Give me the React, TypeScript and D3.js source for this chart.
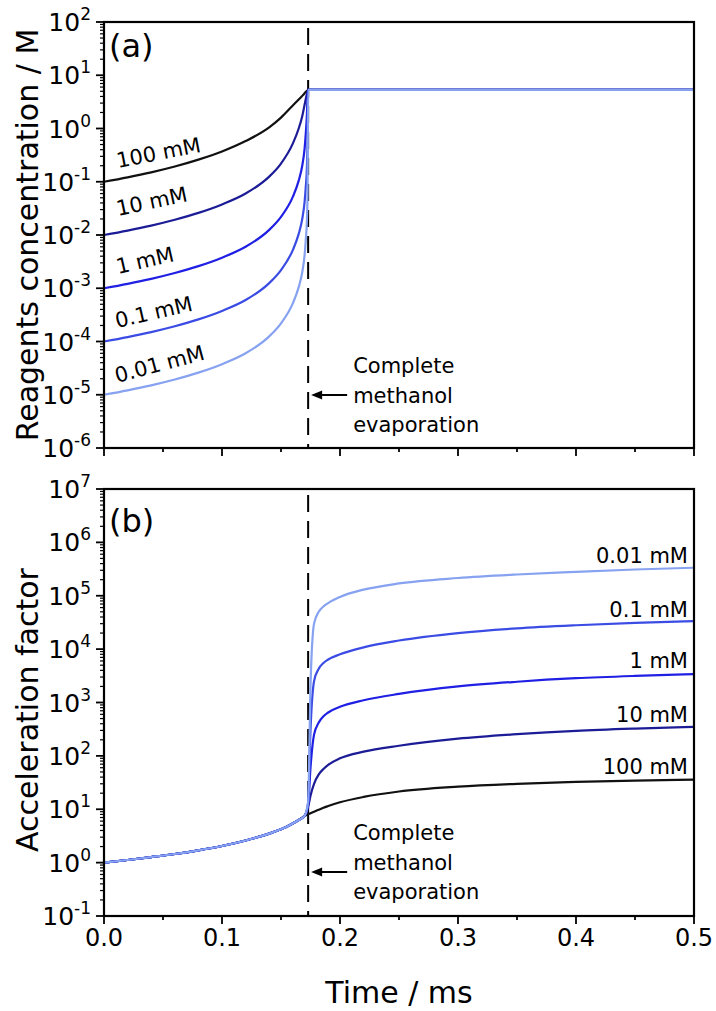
import React from "react";
import * as d3 from "d3";

// ---------- data ----------
const TIME_A = [0, 0.02, 0.04, 0.06, 0.08, 0.1, 0.12, 0.14, 0.15, 0.16, 0.165, 0.168, 0.17, 0.171, 0.172, 0.1725, 0.173, 0.5];
const CONC_100 = [0.1, 0.121, 0.15, 0.193, 0.26, 0.37, 0.58, 1.05, 1.6, 2.7, 3.5, 4.1, 4.6, 4.9, 5.1, 5.2, 5.3, 5.3];
const CONC_10 = [0.01, 0.0121, 0.015, 0.0193, 0.026, 0.0375, 0.06, 0.125, 0.22, 0.52, 1.0, 1.7, 2.8, 3.6, 4.5, 5.0, 5.3, 5.3];
const CONC_1 = [0.001, 0.00121, 0.0015, 0.00193, 0.0026, 0.00375, 0.006, 0.0125, 0.022, 0.052, 0.105, 0.2, 0.42, 0.8, 1.9, 3.8, 5.3, 5.3];
const CONC_01 = [1e-4, 1.21e-4, 1.5e-4, 1.93e-4, 2.6e-4, 3.75e-4, 6e-4, 1.25e-3, 2.2e-3, 5.2e-3, 0.0105, 0.02, 0.042, 0.08, 0.2, 0.6, 5.3, 5.3];
const CONC_001 = [1e-5, 1.21e-5, 1.5e-5, 1.93e-5, 2.6e-5, 3.75e-5, 6e-5, 1.25e-4, 2.2e-4, 5.2e-4, 1.05e-3, 2e-3, 4.2e-3, 8e-3, 0.02, 0.06, 5.3, 5.3];

const TIME_B = [0, 0.02, 0.04, 0.06, 0.08, 0.1, 0.12, 0.14, 0.15, 0.16, 0.165, 0.17, 0.173, 0.175, 0.178, 0.182, 0.186, 0.19, 0.2, 0.22, 0.25, 0.3, 0.35, 0.4, 0.45, 0.5];
const ACC_100 = [1.0, 1.12, 1.27, 1.45, 1.7, 2.05, 2.6, 3.5, 4.2, 5.4, 6.3, 7.5, 8.0, 8.4, 9.0, 9.8, 10.7, 11.5, 13.5, 17, 21.5, 26.5, 30, 32.5, 34.5, 36];
const ACC_10 = [1.0, 1.12, 1.27, 1.45, 1.7, 2.05, 2.6, 3.5, 4.2, 5.4, 6.3, 7.5, 11, 18, 30, 45, 57, 68, 90, 120, 155, 210, 255, 295, 325, 350];
const ACC_1 = [1.0, 1.12, 1.27, 1.45, 1.7, 2.05, 2.6, 3.5, 4.2, 5.4, 6.3, 7.5, 12, 60, 250, 420, 550, 650, 830, 1100, 1450, 2000, 2450, 2850, 3150, 3400];
const ACC_01 = [1.0, 1.12, 1.27, 1.45, 1.7, 2.05, 2.6, 3.5, 4.2, 5.4, 6.3, 7.5, 13, 300, 2500, 4300, 5500, 6400, 8000, 10800, 14500, 20000, 24500, 28000, 31000, 33500];
const ACC_001 = [1.0, 1.12, 1.27, 1.45, 1.7, 2.05, 2.6, 3.5, 4.2, 5.4, 6.3, 7.5, 14, 2000, 30000, 50000, 63000, 73000, 95000, 130000, 170000, 215000, 250000, 280000, 310000, 335000];

const SERIES_LABELS = ["100 mM", "10 mM", "1 mM", "0.1 mM", "0.01 mM"];
const SERIES_COLORS = ["#111111", "#1c1c96", "#2020e4", "#3a4ce4", "#86a2f0"];
const CONC_SERIES = [CONC_100, CONC_10, CONC_1, CONC_01, CONC_001];
const ACC_SERIES = [ACC_100, ACC_10, ACC_1, ACC_01, ACC_001];

const EVAP_TIME = 0.173;
const X_DOMAIN = [0, 0.5];
const X_TICKS = [0, 0.1, 0.2, 0.3, 0.4, 0.5];
const CONC_DOMAIN = [1e-6, 1e2];
const ACC_DOMAIN = [1e-1, 1e7];
const ANNOT_LINES = ["Complete", "methanol", "evaporation"];

// ---------- layout ----------
const W = 716;
const H = 1011;
const FONT = "'DejaVu Sans', 'Liberation Sans', Arial, sans-serif";
const PL = 104;
const PR = 694;
const TOP_A = 22;
const BOT_A = 448;
const TOP_B = 489;
const BOT_B = 916;

const x = d3.scaleLinear().domain(X_DOMAIN).range([PL, PR]);
const yA = d3.scaleLog().domain(CONC_DOMAIN).range([BOT_A, TOP_A]);
const yB = d3.scaleLog().domain(ACC_DOMAIN).range([BOT_B, TOP_B]);

function isDecade(v: number) {
  const l = Math.log10(v);
  return Math.abs(l - Math.round(l)) < 1e-9;
}

function LogAxis({ y }: { y: d3.ScaleLogarithmic<number, number> }) {
  const ticks = y.ticks();
  return (
    <g>
      {ticks.map((t, i) => {
        const major = isDecade(t);
        const py = y(t);
        return (
          <line key={i} x1={PL - (major ? 8 : 4)} x2={PL} y1={py} y2={py} stroke="#000" strokeWidth={major ? 1.8 : 1.2} />
        );
      })}
      {ticks.filter(isDecade).map((t, i) => {
        const e = Math.round(Math.log10(t));
        return (
          <text key={"l" + i} x={91} y={y(t) + 9} textAnchor="end" fontFamily={FONT} fontSize={25} fill="#000">
            <tspan>10</tspan>
            <tspan dy={-11} fontSize={17}>{e < 0 ? "-" + Math.abs(e) : String(e)}</tspan>
          </text>
        );
      })}
    </g>
  );
}

function XAxis({ yPos, labels }: { yPos: number; labels: boolean }) {
  const ticks = x.ticks(10);
  return (
    <g>
      {ticks.map((t, i) => {
        const major = X_TICKS.some((m) => Math.abs(m - t) < 1e-9);
        return <line key={i} x1={x(t)} x2={x(t)} y1={yPos} y2={yPos + (major ? 8 : 4)} stroke="#000" strokeWidth={1.8} />;
      })}
      {labels &&
        X_TICKS.map((t, i) => (
          <text key={"l" + i} x={x(t)} y={yPos + 30} textAnchor="middle" fontFamily={FONT} fontSize={24} fill="#000">
            {d3.format(".1f")(t)}
          </text>
        ))}
    </g>
  );
}

function Frame({ top, bottom }: { top: number; bottom: number }) {
  return <rect x={PL} y={top} width={PR - PL} height={bottom - top} fill="none" stroke="#000" strokeWidth={2.2} />;
}

function Annotation({ top, arrowY }: { top: number; arrowY: number }) {
  const xl = x(EVAP_TIME);
  return (
    <g>
      <line x1={xl + 12} x2={xl + 39} y1={arrowY} y2={arrowY} stroke="#000" strokeWidth={2} />
      <path d={`M${xl + 3},${arrowY} L${xl + 14},${arrowY - 4.5} L${xl + 14},${arrowY + 4.5} Z`} fill="#000" />
      {ANNOT_LINES.map((s, i) => (
        <text key={i} x={xl + 45} y={top + i * 29.5} fontFamily={FONT} fontSize={21} fill="#000">
          {s}
        </text>
      ))}
    </g>
  );
}

export default function App() {
  const lineA = d3
    .line<number>()
    .x((_, i) => x(TIME_A[i]))
    .y((d) => yA(d))
    .curve(d3.curveMonotoneX);
  const lineB = d3
    .line<number>()
    .x((_, i) => x(TIME_B[i]))
    .y((d) => yB(d))
    .curve(d3.curveMonotoneX);

  const labelsA = [
    { x: 118, y: 168, a: -11 },
    { x: 118, y: 216, a: -12 },
    { x: 118, y: 274, a: -13 },
    { x: 117, y: 328, a: -13 },
    { x: 117, y: 383, a: -15 },
  ];
  const labelsB = [774, 722, 668, 617, 563];

  const xe = x(EVAP_TIME);

  return (
    <div style={{ position: "absolute", left: 0, top: 0 }}>
      <svg width={W} height={H} viewBox={`0 0 ${W} ${H}`} style={{ display: "block", background: "#fff" }}>
        {/* panel a */}
        <line x1={xe} x2={xe} y1={TOP_A + 6} y2={BOT_A} stroke="#000" strokeWidth={2} strokeDasharray="17,9" />
        {CONC_SERIES.map((s, i) => (
          <path key={i} d={lineA(s) || ""} fill="none" stroke={SERIES_COLORS[i]} strokeWidth={2.2} />
        ))}
        <Frame top={TOP_A} bottom={BOT_A} />
        <LogAxis y={yA} />
        <XAxis yPos={BOT_A} labels={false} />
        {SERIES_LABELS.map((s, i) => (
          <text
            key={i}
            transform={`translate(${labelsA[i].x},${labelsA[i].y}) rotate(${labelsA[i].a})`}
            fontFamily={FONT}
            fontSize={21}
            fill="#000"
          >
            {s}
          </text>
        ))}
        <text x={109} y={57} fontFamily={FONT} fontSize={32} fill="#000">(a)</text>
        <Annotation top={373} arrowY={395} />
        <text transform={`translate(38,235) rotate(-90)`} textAnchor="middle" fontFamily={FONT} fontSize={30} fill="#000">
          Reagents concentration / M
        </text>

        {/* panel b */}
        <line x1={xe} x2={xe} y1={TOP_B + 6} y2={BOT_B} stroke="#000" strokeWidth={2} strokeDasharray="17,9" />
        {ACC_SERIES.map((s, i) => (
          <path key={i} d={lineB(s) || ""} fill="none" stroke={SERIES_COLORS[i]} strokeWidth={2.2} />
        ))}
        <Frame top={TOP_B} bottom={BOT_B} />
        <LogAxis y={yB} />
        <XAxis yPos={BOT_B} labels={true} />
        {SERIES_LABELS.map((s, i) => (
          <text key={i} x={688} y={labelsB[i]} textAnchor="end" fontFamily={FONT} fontSize={21} fill="#000">
            {s}
          </text>
        ))}
        <text x={109} y={532} fontFamily={FONT} fontSize={32} fill="#000">(b)</text>
        <Annotation top={840} arrowY={872} />
        <text transform={`translate(38,710) rotate(-90)`} textAnchor="middle" fontFamily={FONT} fontSize={30} fill="#000">
          Acceleration factor
        </text>
        <text x={x(0.25)} y={1003} textAnchor="middle" fontFamily={FONT} fontSize={30} fill="#000">
          Time / ms
        </text>
      </svg>
    </div>
  );
}
